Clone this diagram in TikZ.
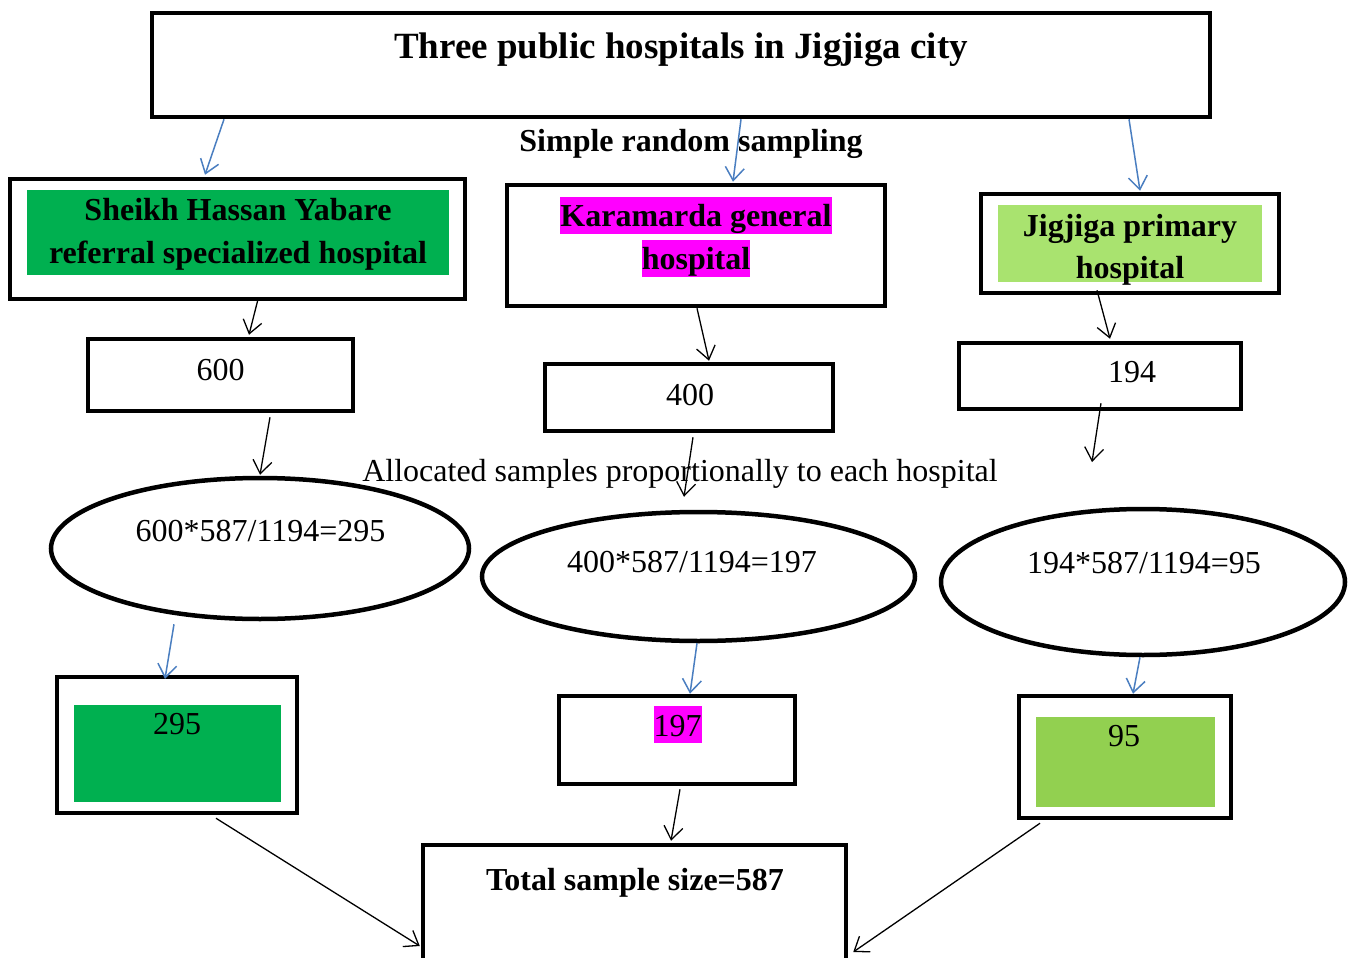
\documentclass[tikz,border=0pt]{standalone}
\usepackage{fontspec}
\setmainfont{Liberation Serif}
\usetikzlibrary{arrows.meta,shapes.geometric}
\definecolor{dkgreen}{HTML}{00B050}
\definecolor{ltgreen}{HTML}{92D050}
\definecolor{pagreen}{HTML}{A9E36F}
\definecolor{mag}{HTML}{FF00FF}
\definecolor{arrblue}{HTML}{4A7EC0}
\tikzset{
  bx/.style={draw, line width=4.5pt, rectangle, inner sep=0pt},
  ell/.style={draw, line width=4.5pt, ellipse, inner sep=0pt},
  tx/.style={anchor=base, inner sep=0pt, font=\fontsize{32}{38}\selectfont},
  btx/.style={anchor=base, inner sep=0pt, font=\fontsize{32}{38}\selectfont\bfseries},
  hl/.style={fill=mag, text height=29pt, text depth=8pt},
  barr/.style={draw=arrblue, line width=1.5pt, -{Straight Barb[length=13pt,width=19pt,line width=1.5pt]}},
  karr/.style={draw=black, line width=1.3pt, -{Straight Barb[length=13pt,width=19pt,line width=1.3pt]}},
}
\begin{document}
\begin{tikzpicture}[x=1pt,y=-1pt]
\useasboundingbox (0,0) rectangle (1353,958);
\clip (0,0) rectangle (1353,958);
% boxes
\node[bx, minimum width=1058pt, minimum height=104pt] (title) at (681,65) {};
\node[bx, minimum width=455pt, minimum height=120pt] (b1) at (237.5,239) {};
\node[bx, minimum width=378pt, minimum height=121pt] (b2) at (696,245.5) {};
\node[bx, minimum width=298pt, minimum height=99pt] (b3) at (1130,243.5) {};
\node[bx, minimum width=265pt, minimum height=72pt] (n1) at (220.5,375) {};
\node[bx, minimum width=288pt, minimum height=67pt] (n2) at (689,397.5) {};
\node[bx, minimum width=282pt, minimum height=66pt] (n3) at (1100,376) {};
\node[ell, minimum width=418pt, minimum height=141pt] (e1) at (260,548.5) {};
\node[ell, minimum width=433pt, minimum height=129pt] (e2) at (698.5,576.5) {};
\node[ell, minimum width=404pt, minimum height=146pt] (e3) at (1143,582) {};
\node[bx, minimum width=240pt, minimum height=136pt] (r1) at (177,745) {};
\node[bx, minimum width=236pt, minimum height=88pt] (r2) at (677,740) {};
\node[bx, minimum width=212pt, minimum height=122pt] (r3) at (1125,757) {};
\node[bx, minimum width=423pt, minimum height=126pt] (total) at (634.5,908) {};
% inner fills
\fill[dkgreen] (27,190) rectangle (449,275);
\fill[pagreen] (998,205) rectangle (1262,282);
\fill[dkgreen] (74,705) rectangle (281,802);
\fill[ltgreen] (1036,717) rectangle (1215,807);
% texts
\node[anchor=base, inner sep=0pt, font=\fontsize{37}{44}\selectfont\bfseries] (ttitle) at (681,59) {Three public hospitals in Jigjiga city};
\node[btx] (tsrs) at (691,151) {Simple random sampling};
\node[btx] (tb1a) at (238,220) {Sheikh Hassan Yabare};
\node[btx] (tb1b) at (238,263) {referral specialized hospital};
\node[btx, hl] (tb2a) at (696,226) {Karamarda general};
\node[btx, hl] (tb2b) at (696,269) {hospital};
\node[btx] (tb3a) at (1130,236) {Jigjiga primary};
\node[btx] (tb3b) at (1130,278) {hospital};
\node[tx] (tn1) at (220.5,380) {600};
\node[tx] (tn2) at (690,405) {400};
\node[tx] (tn3) at (1132,382) {194};
\node[tx] (talloc) at (680,481) {Allocated samples proportionally to each hospital};
\node[tx] (te1) at (260.5,541) {600*587/1194=295};
\node[tx] (te2) at (692,572) {400*587/1194=197};
\node[tx] (te3) at (1144,573) {194*587/1194=95};
\node[tx] (tr1) at (177,734) {295};
\node[tx, fill=mag, text height=30pt, text depth=7pt] (tr2) at (677.5,736) {197};
\node[tx] (tr3) at (1124,746) {95};
\node[btx] (ttot) at (635,890) {Total sample size=587};
% blue arrows
\draw[barr] ([xshift=-457pt]title.south) -- ([xshift=-32.5pt,yshift=2pt]b1.north);
\draw[barr] ([xshift=60pt]title.south) -- ([xshift=37pt,yshift=1pt]b2.north);
\draw[barr] ([xshift=448pt]title.south) -- ([xshift=10pt,yshift=1pt]b3.north);
\draw[barr] ([xshift=-86pt,yshift=-3pt]e1.south) -- ([xshift=-12pt,yshift=-4pt]r1.north);
\draw[barr] ([xshift=-1.5pt]e2.south) -- ([xshift=13pt]r2.north);
\draw[barr] ([xshift=-3pt]e3.south) -- ([xshift=8pt]r3.north);
% black arrows
\coordinate (n3end) at (1092,462);
\draw[karr] ([xshift=20.5pt,yshift=2pt]b1.south) -- ([xshift=28.5pt,yshift=2pt]n1.north);
\draw[karr] ([xshift=1pt]b2.south) -- ([xshift=20pt,yshift=1pt]n2.north);
\draw[karr] ([xshift=-33pt,yshift=5pt]b3.south) -- ([xshift=10pt,yshift=2pt]n3.north);
\draw[karr] ([xshift=49.5pt,yshift=-4pt]n1.south) -- ([yshift=1pt]e1.north);
\draw[karr] ([xshift=4pt,yshift=-4pt]n2.south) -- ([xshift=-14.5pt,yshift=13pt]e2.north);
\draw[karr] ([xshift=1pt,yshift=8pt]n3.south) -- (n3end);
\draw[karr] ([xshift=3pt,yshift=-3pt]r2.south) -- ([xshift=36.5pt,yshift=2pt]total.north);
\draw[karr] ([xshift=39pt,yshift=-3pt]r1.south) -- ([xshift=-1pt,yshift=-38pt]total.west);
\draw[karr] ([xshift=-85pt,yshift=-3pt]r3.south) -- ([xshift=5pt,yshift=-44pt]total.east);
\end{tikzpicture}
\end{document}
